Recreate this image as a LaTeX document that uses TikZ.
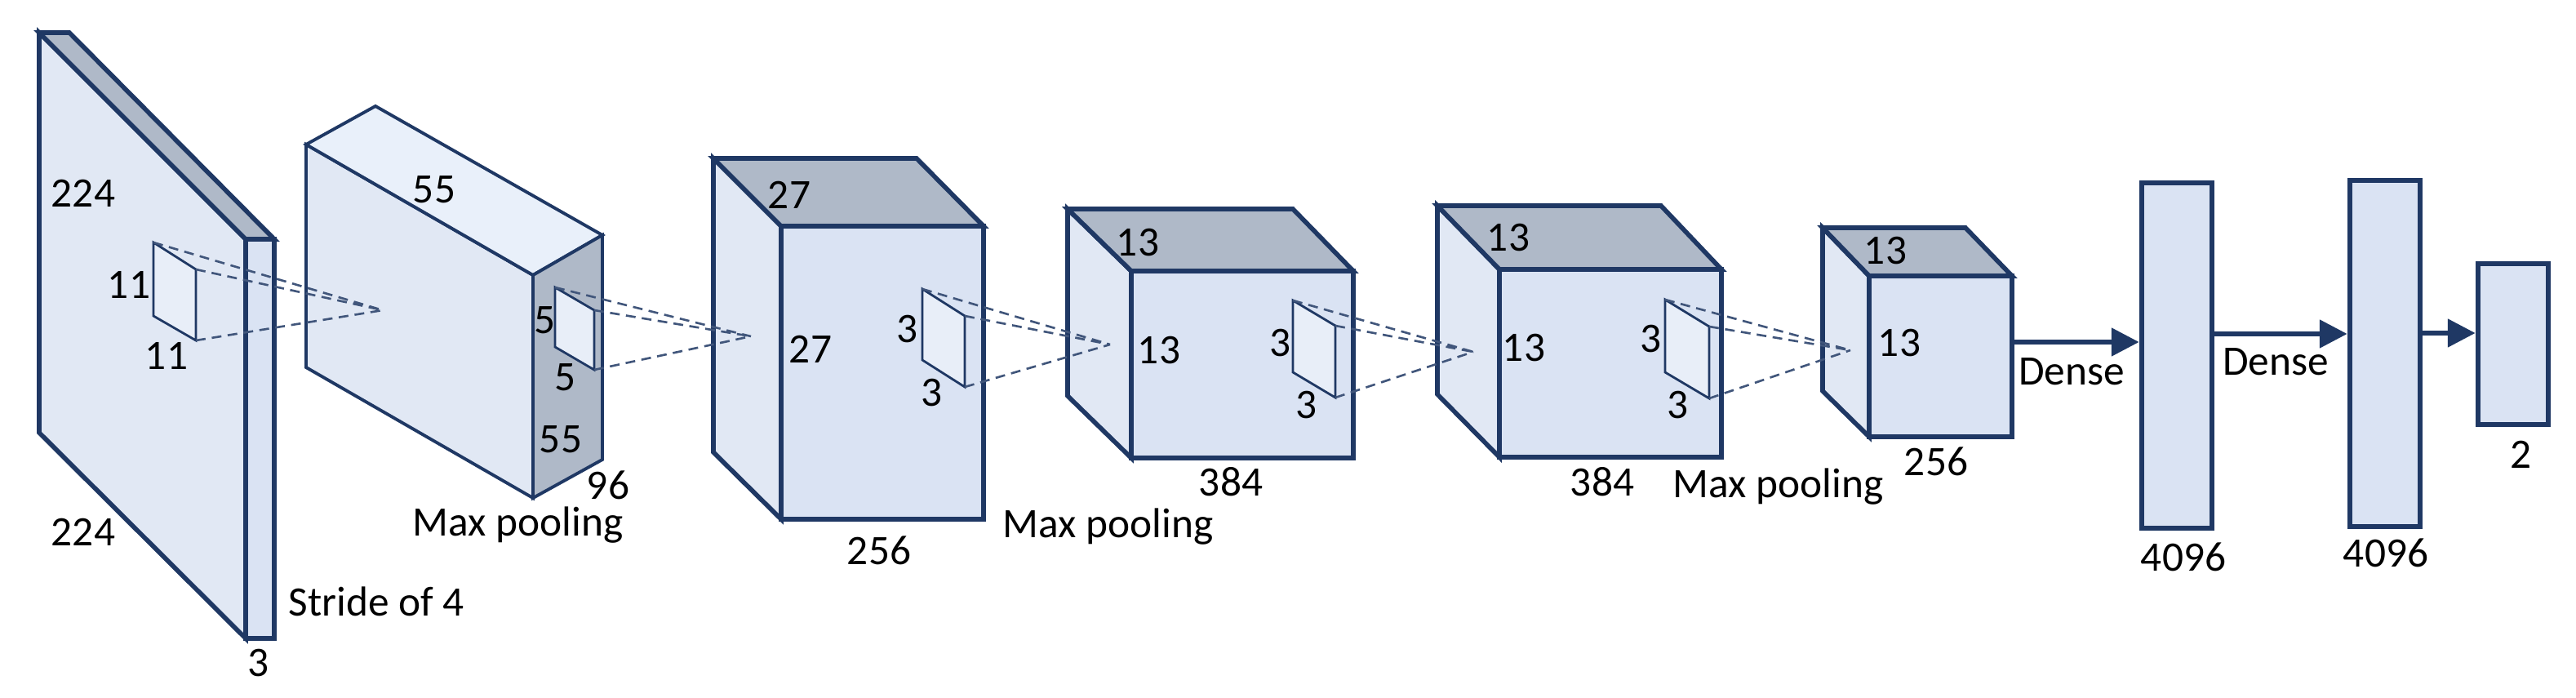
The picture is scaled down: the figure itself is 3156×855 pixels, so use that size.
\documentclass[tikz,border=0pt]{standalone}
\usepackage{fontspec}
\setmainfont{Carlito}
\usetikzlibrary{arrows.meta}
\definecolor{navy}{HTML}{1F3864}
\definecolor{frontblue}{HTML}{DAE3F3}
\definecolor{sideblue}{HTML}{E1E8F4}
\definecolor{lidblue}{HTML}{E9F0FA}
\definecolor{lidgray}{HTML}{AFB9C8}
\definecolor{kernelblue}{HTML}{E8EEF8}

\begin{document}
\begin{tikzpicture}[x=0.01cm,y=-0.01cm,
    every node/.style={font=\fontsize{14.6}{17}\selectfont,inner sep=0pt},
    frontface/.style={fill=frontblue,draw=navy,line width=1.6pt},
    sideface/.style={fill=sideblue,draw=navy,line width=1.6pt},
    topface/.style={fill=lidgray,draw=navy,line width=1.6pt},
    thinbox/.style={line width=1.1pt},
    kernel/.style={fill=kernelblue,draw=navy,line width=0.8pt},
    proj/.style={draw=navy!85,line width=0.75pt,dash pattern=on 3.4pt off 2.2pt},
    arr/.style={draw=navy,line width=1.6pt,-{Triangle[length=9.6pt,width=9.6pt]}},
    fc/.style={draw=navy,fill=frontblue,line width=1.9pt,minimum width=0.86cm}]
    \useasboundingbox (0,0) rectangle (3156,855);

    % input image 224 x 224 x 3
    \filldraw[sideface] (48,40) -- (301,293) -- (301,782) -- (48,530) -- cycle;
    \filldraw[topface] (48,40) -- (85,40) -- (336,293) -- (301,293) -- cycle;
    \filldraw[frontface] (301,293) rectangle (336,782);
    \filldraw[kernel] (188,297) coordinate (ka1) -- (240,330) coordinate (ka2)
      -- (240,417) coordinate (ka3) -- (188,387) -- cycle;

    % conv 1: 55 x 55 x 96
    \filldraw[sideface,thinbox] (375,177) -- (653,337) -- (653,610) -- (375,450) -- cycle;
    \filldraw[sideface,thinbox,fill=lidblue] (375,177) -- (460,130) -- (738,288) -- (653,337) -- cycle;
    \filldraw[topface,thinbox] (653,337) -- (738,288) -- (738,563) -- (653,610) -- cycle;
    \filldraw[kernel] (680,352) coordinate (kb1) -- (728,380) coordinate (kb2)
      -- (728,453) coordinate (kb3) -- (680,425) -- cycle;
    \coordinate (ca) at (469,380);

    % conv 2: 27 x 27 x 256
    \filldraw[sideface] (874,194) -- (957,277) -- (957,636) -- (874,554) -- cycle;
    \filldraw[topface] (874,194) -- (1123,194) -- (1205,277) -- (957,277) -- cycle;
    \filldraw[frontface] (957,277) rectangle (1205,636);
    \filldraw[kernel] (1130,354) coordinate (kc1) -- (1182,387) coordinate (kc2)
      -- (1182,474) coordinate (kc3) -- (1130,441) -- cycle;
    \coordinate (cb) at (920,412);

    % conv 3: 13 x 13 x 384
    \filldraw[sideface] (1308,256) -- (1386,332) -- (1386,561) -- (1308,485) -- cycle;
    \filldraw[topface] (1308,256) -- (1584,256) -- (1658,332) -- (1386,332) -- cycle;
    \filldraw[frontface] (1386,332) rectangle (1658,561);
    \filldraw[kernel] (1584,368) coordinate (kd1) -- (1636,399) coordinate (kd2)
      -- (1636,487) coordinate (kd3) -- (1584,456) -- cycle;
    \coordinate (cc) at (1360,422);

    % conv 4: 13 x 13 x 384
    \filldraw[sideface] (1761,252) -- (1837,330) -- (1837,560) -- (1761,483) -- cycle;
    \filldraw[topface] (1761,252) -- (2035,252) -- (2109,330) -- (1837,330) -- cycle;
    \filldraw[frontface] (1837,330) rectangle (2109,560);
    \filldraw[kernel] (2040,367) coordinate (ke1) -- (2094,400) coordinate (ke2)
      -- (2094,488) coordinate (ke3) -- (2040,456) -- cycle;
    \coordinate (cd) at (1805,431);

    % conv 5: 13 x 13 x 256
    \filldraw[sideface] (2233,279) -- (2290,338) -- (2290,535) -- (2233,479) -- cycle;
    \filldraw[topface] (2233,279) -- (2408,279) -- (2465,338) -- (2290,338) -- cycle;
    \filldraw[frontface] (2290,338) rectangle (2465,535);
    \coordinate (ce) at (2267,429);
    \coordinate (f6e) at (2465,419);

    % receptive fields
    \draw[proj] (ka1) -- (ca) (ka2) -- (ca) (ka3) -- (ca);
    \draw[proj] (kb1) -- (cb) (kb2) -- (cb) (kb3) -- (cb);
    \draw[proj] (kc1) -- (cc) (kc2) -- (cc) (kc3) -- (cc);
    \draw[proj] (kd1) -- (cd) (kd2) -- (cd) (kd3) -- (cd);
    \draw[proj] (ke1) -- (ce) (ke2) -- (ce) (ke3) -- (ce);

    % dense layers
    \node[fc,minimum height=4.23cm] (fc1) at (2667,435.5) {};
    \node[fc,minimum height=4.24cm] (fc2) at (2922,433) {};
    \node[fc,minimum height=1.97cm] (out) at (3079,421.5) {};
    \coordinate (d2) at (2713,409);
    \coordinate (d3) at (2968,408);
    \draw[arr] (f6e) -- (f6e -| fc1.west);
    \draw[arr] (d2) -- (d2 -| fc2.west);
    \draw[arr] (d3) -- (d3 -| out.west);

    % labels
    \node (in224a) at (102,237) {224};
    \node (in224b) at (102,652) {224};
    \node (k11a) at (158,349) {11};
    \node (k11b) at (204,436) {11};
    \node (in3) at (317,812) {3};
    \node[anchor=west] (stride) at (353,737) {Stride of 4};
    \node (b55a) at (532,232) {55};
    \node (k5a) at (668,392) {5};
    \node (k5b) at (693,462) {5};
    \node (b55b) at (687,538) {55};
    \node (b96) at (745,594) {96};
    \node[anchor=west] (poolA) at (505,643) {Max pooling};
    \node (c27a) at (967,239) {27};
    \node (c27b) at (993,428) {27};
    \node (k3a) at (1112,403) {3};
    \node (k3b) at (1142,481) {3};
    \node (c256) at (1077,674) {256};
    \node[anchor=west] (poolB) at (1228,645) {Max pooling};
    \node (d13a) at (1394,297) {13};
    \node (d13b) at (1420,429) {13};
    \node (k3c) at (1568,420) {3};
    \node (k3d) at (1600,496) {3};
    \node (d384) at (1508,590) {384};
    \node (e13a) at (1848,291) {13};
    \node (e13b) at (1867,426) {13};
    \node (k3e) at (2022,415) {3};
    \node (k3f) at (2055,496) {3};
    \node (e384) at (1963,590) {384};
    \node[anchor=west] (poolC) at (2049,596) {Max pooling};
    \node (f13a) at (2310,307) {13};
    \node (f13b) at (2327,420) {13};
    \node (f256) at (2372,565) {256};
    \node (dense1) at (2538,455) {Dense};
    \node (dense2) at (2788,443) {Dense};
    \node (fc1n) at (2675,682) {4096};
    \node (fc2n) at (2923,677) {4096};
    \node (outn) at (3088,557) {2};
  \end{tikzpicture}
\end{document}
